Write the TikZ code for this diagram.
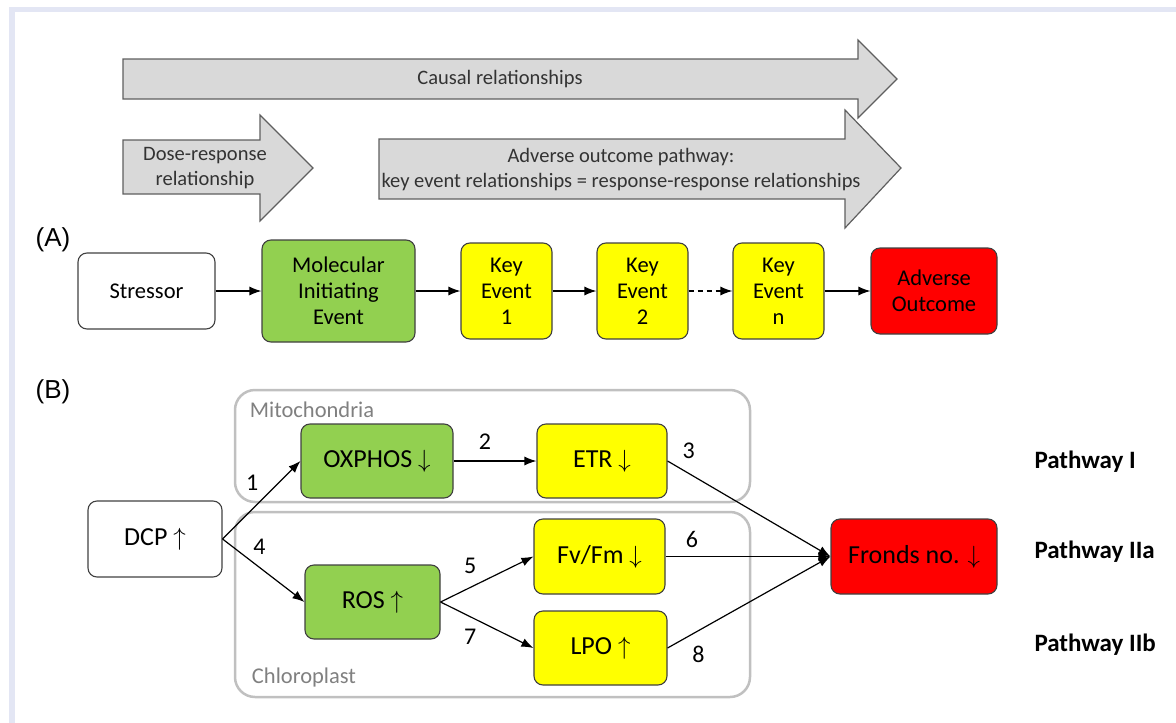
\documentclass[tikz,border=0pt]{standalone}
\usepackage{fontspec}
\setmainfont{Carlito}
\newfontfamily\panelfont{Liberation Sans}
\usetikzlibrary{arrows.meta,positioning}
\definecolor{framecol}{HTML}{E3E6F4}
\definecolor{arrowfill}{HTML}{D9D9D9}
\definecolor{arrowline}{HTML}{5F5F5F}
\definecolor{boxline}{HTML}{404040}
\definecolor{miegreen}{HTML}{92D050}
\definecolor{keyellow}{HTML}{FFFF00}
\definecolor{aored}{HTML}{FF0000}
\definecolor{cellline}{HTML}{C0C0C0}
\definecolor{celltext}{HTML}{808080}

\begin{document}
\begin{tikzpicture}[x=1pt, y=-1pt,
		bigarrow/.style={draw=arrowline, fill=arrowfill, line width=1.2pt, line join=miter},
		arrowtext/.style={text=black!80, align=center, font=\fontsize{20.5}{25}\selectfont},
		box/.style={draw=boxline, line width=1.1pt, rounded corners=9pt, align=center, inner sep=0pt, font=\fontsize{22.5}{26}\selectfont},
		bbox/.style={box, font=\fontsize{26}{30}\selectfont},
		cell/.style={draw=cellline, line width=2.5pt, rounded corners=20pt},
		celllabel/.style={text=celltext, font=\fontsize{22.5}{26}\selectfont},
		link/.style={-{Latex[length=12pt,width=9pt]}, line width=1.2pt},
		num/.style={font=\fontsize{24}{28}\selectfont},
		pathlabel/.style={anchor=west, font=\bfseries\fontsize{25}{29}\selectfont},
		panel/.style={font=\panelfont\fontsize{26}{30}\selectfont}]
	\useasboundingbox (0,0) rectangle (1176,723);
	\fill[framecol] (9,7) rectangle (1176,12);
	\fill[framecol] (9,7) rectangle (15,723);

	\draw[bigarrow] (123,59) -- (858,59) -- (858,40) -- (897,79) -- (858,118) -- (858,99) -- (123,99) -- cycle;
	\node[arrowtext] (causal) at (500,79) {Causal relationships};
	\draw[bigarrow] (123,140) -- (260,140) -- (260,115) -- (313,168) -- (260,221) -- (260,194) -- (123,194) -- cycle;
	\node[arrowtext] (dose) at (205,168) {Dose-response\\relationship};
	\draw[bigarrow] (379,139) -- (845,139) -- (845,110) -- (901,168) -- (845,228) -- (845,199) -- (379,199) -- cycle;
	\node[arrowtext] (aop) at (621,170) {Adverse outcome pathway:\\key event relationships = response-response relationships};

	\node[panel] (pa) at (53,240) {(A)};
	\node[box, minimum width=137, minimum height=76] (stressor) at (146.5,291) {Stressor};
	\node[box, fill=miegreen, minimum width=153, minimum height=102] (mie) at (338.5,291) {Molecular\\Initiating\\Event};
	\node[box, fill=keyellow, minimum width=91, minimum height=96] (ke1) at (506.5,291) {Key\\Event\\1};
	\node[box, fill=keyellow, minimum width=91, minimum height=96] (ke2) at (642.5,291) {Key\\Event\\2};
	\node[box, fill=keyellow, minimum width=91, minimum height=96] (ken) at (778.5,291) {Key\\Event\\n};
	\node[box, fill=aored, minimum width=126, minimum height=86] (ao) at (934,291) {Adverse\\Outcome};
	\draw[link] (stressor) -- (mie);
	\draw[link] (mie) -- (ke1);
	\draw[link] (ke1) -- (ke2);
	\draw[link, dash pattern=on 5pt off 4pt] (ke2) -- (ken);
	\draw[link] (ken) -- (ao);

	\node[panel] (pb) at (53,392) {(B)};
	\draw[cell] (235,390) rectangle (750,502);
	\draw[cell] (235,512) rectangle (750,697);
	\node[celllabel] (mito) at (312,410) {Mitochondria};
	\node[celllabel] (chloro) at (304,677) {Chloroplast};
	\node[bbox, minimum width=134, minimum height=76] (dcp) at (155,539) {DCP $\uparrow$};
	\node[bbox, fill=miegreen, minimum width=152, minimum height=74] (oxphos) at (377,461) {OXPHOS $\downarrow$};
	\node[bbox, fill=keyellow, minimum width=130, minimum height=74] (etr) at (602,461) {ETR $\downarrow$};
	\node[bbox, fill=miegreen, minimum width=135, minimum height=74] (ros) at (372.5,602) {ROS $\uparrow$};
	\node[bbox, fill=keyellow, minimum width=131, minimum height=75] (fvfm) at (599.5,556.5) {Fv/Fm $\downarrow$};
	\node[bbox, fill=keyellow, minimum width=133, minimum height=74] (lpo) at (600.5,648) {LPO $\uparrow$};
	\node[bbox, fill=aored, minimum width=166, minimum height=75] (fronds) at (914,556.5) {Fronds no. $\downarrow$};
	\draw[link] (dcp.east) -- (oxphos.west) node[num, pos=0.38, yshift=27pt] {1};
	\draw[link] (oxphos) -- (etr) node[num, midway, xshift=-10pt, yshift=19pt] {2};
	\draw[link] (etr.east) -- (fronds.west) node[num, pos=0.13, yshift=23pt] {3};
	\draw[link] (dcp.east) -- (ros.west) node[num, pos=0.45, yshift=21pt] {4};
	\draw[link] (ros.east) -- (fvfm.west) node[num, pos=0.32, yshift=22pt] {5};
	\draw[link, line width=1.8pt] (fvfm) -- (fronds) node[num, pos=0.16, yshift=17pt] {6};
	\draw[link] (ros.east) -- (lpo.west) node[num, pos=0.32, yshift=-20pt] {7};
	\draw[link] (lpo.east) -- (fronds.west) node[num, pos=0.19, yshift=-24pt] {8};
	\node[pathlabel] (pw1) at (1031,462) {Pathway I};
	\node[pathlabel] (pw2a) at (1031,552) {Pathway IIa};
	\node[pathlabel] (pw2b) at (1031,645) {Pathway IIb};
\end{tikzpicture}
\end{document}
